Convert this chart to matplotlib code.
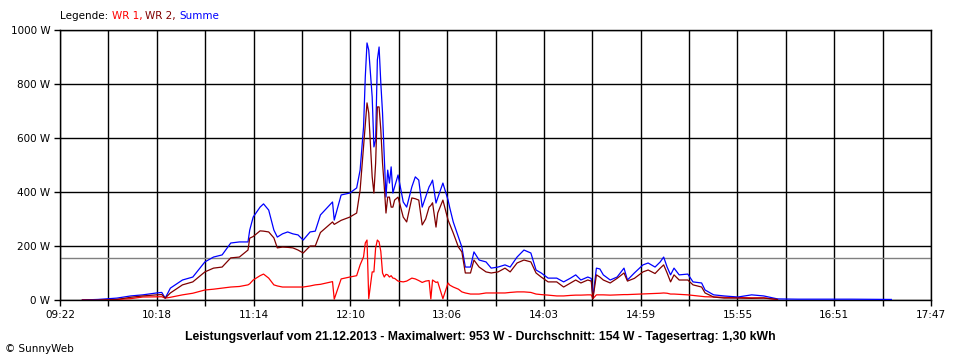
import numpy as np
import matplotlib
matplotlib.use("Agg")
import matplotlib.pyplot as plt

# Messzeiten (hh:mm) und Leistung in W
zeiten = ["09:35", "09:44", "09:55", "10:03", "10:10", "10:18", "10:21", "10:23", "10:26", "10:33",
          "10:39", "10:46", "10:51", "10:56", "11:01", "11:06", "11:11", "11:12", "11:14", "11:18",
          "11:20", "11:23", "11:26", "11:28", "11:31", "11:34", "11:37", "11:40", "11:43", "11:47",
          "11:50", "11:53", "12:00", "12:01", "12:05", "12:10", "12:14", "12:16", "12:18", "12:19",
          "12:20", "12:21", "12:23", "12:24", "12:25", "12:26", "12:27", "12:28", "12:29", "12:30",
          "12:31", "12:32", "12:33", "12:34", "12:35", "12:36", "12:38", "12:41", "12:43", "12:46",
          "12:48", "12:50", "12:52", "12:54", "12:56", "12:57", "12:58", "13:00", "13:01", "13:04",
          "13:07", "13:08", "13:10", "13:13", "13:15", "13:17", "13:20", "13:22", "13:25", "13:29",
          "13:32", "13:36", "13:40", "13:43", "13:47", "13:51", "13:55", "13:58", "14:01", "14:05",
          "14:10", "14:14", "14:18", "14:21", "14:24", "14:28", "14:30", "14:31", "14:33", "14:35",
          "14:37", "14:41", "14:45", "14:49", "14:51", "14:55", "15:00", "15:03", "15:07", "15:10",
          "15:12", "15:14", "15:16", "15:18", "15:21", "15:26", "15:29", "15:34", "15:36", "15:41",
          "15:47", "15:55", "16:03", "16:10", "16:18", "16:30", "17:01", "17:24"]

wr1 = [0, 0, 2, 5, 11, 12, 12, 7, 10, 19,
       25, 37, 40, 44, 48, 50, 56, 60, 74, 90,
       96, 81, 56, 52, 48, 48, 48, 48, 48, 52,
       56, 58, 68, 3, 78, 85, 90, 130, 160, 211,
       222, 5, 104, 104, 193, 222, 215, 180, 100, 85,
       95, 93, 85, 90, 81, 80, 70, 67, 70, 81,
       78, 72, 65, 70, 72, 4, 74, 65, 67, 5,
       63, 55, 48, 40, 30, 26, 22, 22, 22, 26,
       26, 26, 26, 28, 30, 30, 28, 22, 20, 18,
       15, 15, 17, 18, 18, 19, 19, 5, 19, 19,
       19, 18, 19, 20, 20, 21, 22, 23, 24, 25,
       26, 25, 22, 22, 21, 19, 17, 14, 12, 11,
       10, 9, 8, 8, 2, None, None, None]

wr2 = [0, 0, 2, 10, 15, 19, 20, 7, 26, 56,
       67, 104, 118, 122, 156, 159, 185, 229, 235, 256,
       255, 252, 230, 193, 196, 195, 193, 185, 174, 200,
       200, 250, 289, 280, 295, 307, 322, 407, 567, 650,
       730, 693, 456, 396, 507, 715, 715, 630, 507, 420,
       322, 381, 381, 344, 344, 370, 381, 307, 289, 378,
       375, 370, 278, 300, 344, 350, 360, 270, 322, 370,
       296, 280, 248, 196, 178, 100, 100, 148, 122, 104,
       100, 104, 118, 104, 137, 148, 141, 100, 85, 67,
       67, 48, 63, 74, 63, 74, 70, 5, 93, 85,
       74, 63, 80, 100, 70, 80, 104, 111, 98, 118,
       130, 100, 67, 93, 74, 74, 56, 48, 26, 11,
       7, 7, 6, 7, 2, None, None, None]

summe = [0, 2, 7, 15, 19, 26, 28, 7, 44, 74,
         85, 141, 159, 167, 211, 215, 215, 259, 307, 344,
         356, 333, 259, 233, 245, 252, 245, 241, 222, 252,
         255, 315, 363, 296, 389, 396, 415, 481, 641, 826,
         952, 926, 752, 567, 593, 889, 937, 804, 693, 530,
         381, 481, 433, 493, 396, 419, 463, 363, 344, 419,
         456, 444, 344, 381, 419, 430, 444, 359, 378, 433,
         370, 341, 289, 233, 196, 122, 122, 178, 148, 141,
         118, 122, 130, 122, 159, 185, 174, 111, 100, 81,
         81, 67, 81, 93, 74, 85, 80, 11, 118, 115,
         93, 74, 85, 118, 74, 100, 130, 137, 122, 141,
         159, 122, 93, 118, 93, 96, 67, 63, 37, 19,
         15, 11, 19, 15, 4, 3, 3, 2]

durchschnitt = 154
y_ticks = [0, 200, 400, 600, 800, 1000]
x_labels = ["09:22", "10:18", "11:14", "12:10", "13:06", "14:03", "14:59", "15:55", "16:51", "17:47"]
titel = ("Leistungsverlauf vom 21.12.2013 - Maximalwert: 953 W - Durchschnitt: 154 W"
         " - Tagesertrag: 1,30 kWh")


def minuten(s):
    h, m = s.split(":")
    return int(h) * 60 + int(m)


t = np.array([minuten(z) for z in zeiten], dtype=float)
wr1 = np.array([np.nan if v is None else v for v in wr1], dtype=float)
wr2 = np.array([np.nan if v is None else v for v in wr2], dtype=float)
summe = np.array(summe, dtype=float)

plt.rcParams['font.family'] = ['DejaVu Sans']

fig = plt.figure(figsize=(9.6, 3.6), dpi=100)
ax = fig.add_axes([0.0625, 0.1667, 0.9073, 0.75])

t0, t1 = minuten(x_labels[0]), minuten(x_labels[-1])
ax.set_xlim(t0, t1)
ax.set_ylim(0, 1000)

# Gitter: 18 Spalten, Beschriftung jede zweite
xt = np.linspace(t0, t1, 19)
ax.set_xticks(xt)
ax.set_xticklabels([x_labels[i // 2] if i % 2 == 0 else "" for i in range(19)], fontsize=7.5)
ax.set_yticks(y_ticks)
ax.set_yticklabels([f"{v} W" for v in y_ticks], fontsize=7.5)
ax.tick_params(axis="both", length=4, width=1, color="black", pad=3)
ax.grid(True, color="black", lw=1)
for s in ax.spines.values():
    s.set_color("black")
    s.set_linewidth(1)

ax.axhline(durchschnitt, color="#808080", lw=1, zorder=2)

ax.plot(t, wr1, color="#ff0000", lw=0.9, zorder=3)
ax.plot(t, wr2, color="#800000", lw=0.9, zorder=4)
ax.plot(t, summe, color="#0000ff", lw=0.9, zorder=3.5)

# Legende oben links
l0 = fig.text(60 / 960, 1 - 16 / 360, "Legende: ", fontsize=7.5, va="center", ha="left")
l1 = ax.annotate("WR 1, ", xy=(1, 0), xycoords=l0, va="bottom", ha="left", fontsize=7.5, color="#ff0000")
l2 = ax.annotate("WR 2, ", xy=(1, 0), xycoords=l1, va="bottom", ha="left", fontsize=7.5, color="#800000")
ax.annotate("Summe", xy=(1, 0), xycoords=l2, va="bottom", ha="left", fontsize=7.5, color="#0000ff")

fig.text(480 / 960, 1 - 337 / 360, titel, fontsize=8.8, fontweight="bold", ha="center", va="center",
         family="Liberation Sans")
fig.text(5 / 960, 1 - 349 / 360, "© SunnyWeb", fontsize=7.5, ha="left", va="center")

fig.savefig("out.png", dpi=100)
